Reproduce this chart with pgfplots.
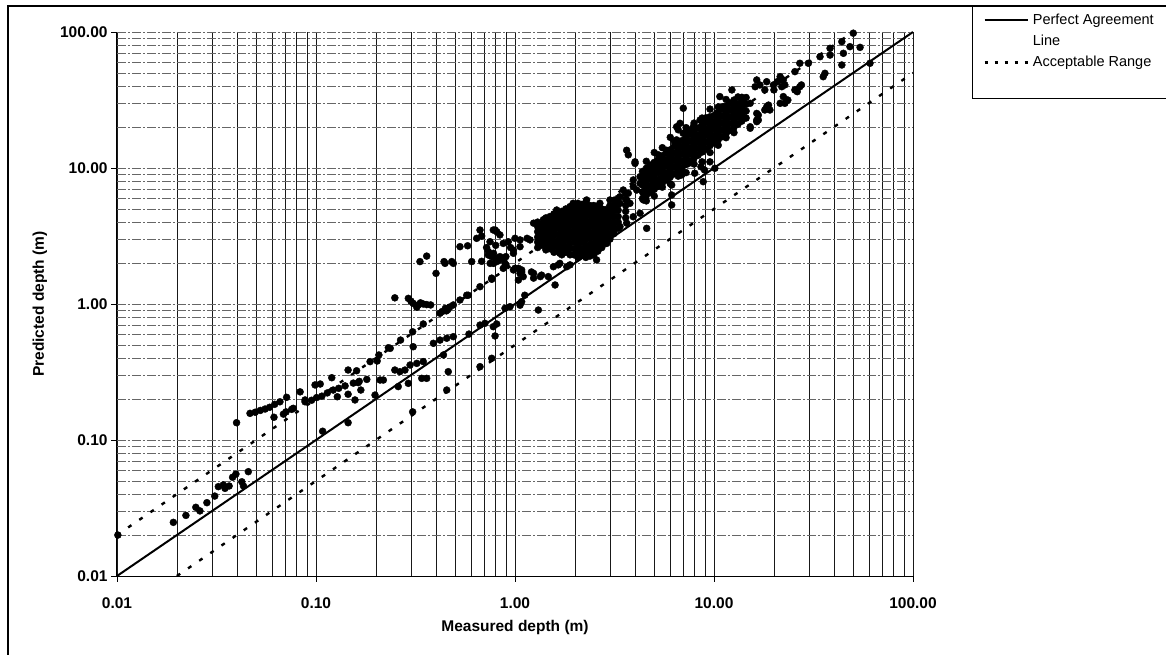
\documentclass[border=0pt]{standalone}
\usepackage{pgfplots}
\pgfplotsset{compat=1.18}
\usepackage{fontspec}
\setmainfont{Liberation Sans}
\begin{document}
\begin{tikzpicture}
\path[use as bounding box] (0,0) rectangle (1166pt,655pt);
\draw[black, line width=1.5pt] (8pt,0pt) -- (8pt,649pt) -- (1170pt,649pt);
\begin{axis}[
  at={(117pt,79pt)}, anchor=south west,
  scale only axis, width=796pt, height=544pt,
  xmode=log, ymode=log,
  xmin=0.01, xmax=100, ymin=0.01, ymax=100,
  clip=false,
  axis lines*=left,
  axis line style={black, line width=1pt},
  xtick={0.01,0.1,1,10,100},
  xticklabels={0.01,0.10,1.00,10.00,100.00},
  ytick={0.01,0.1,1,10,100},
  yticklabels={0.01,0.10,1.00,10.00,100.00},
  tick align=outside,
  major tick length=6pt, minor tick length=0pt,
  tick style={black, line width=0.8pt},
  ticklabel style={font=\fontsize{15.5}{18}\selectfont\bfseries},
  xticklabel style={yshift=-12pt},
  grid=both,
  x grid style={black!90, line width=0.6pt},
  y grid style={black!60, line width=0.7pt, dash pattern=on 9pt off 2pt on 2pt off 2pt},
  xlabel={Measured depth (m)},
  ylabel={Predicted depth (m)},
  every axis x label/.style={at={(axis description cs:0.5,-0.094)}, anchor=center, font=\fontsize{15.5}{18}\selectfont\bfseries},
  every axis y label/.style={at={(axis description cs:-0.097,0.5)}, anchor=center, rotate=90, font=\fontsize{15.5}{18}\selectfont\bfseries},
  legend style={at={(axis description cs:1.0741,1.0478)}, anchor=north west,
    draw=black, line width=1pt, inner xsep=11pt, inner ysep=6pt,
    font=\fontsize{14.5}{17}\selectfont, row sep=5pt},
  legend cell align=left,
]
\addplot[only marks, mark=*, mark size=3.5pt, black, forget plot] table {
x y
0.0101 0.020
0.0192 0.0248
0.0222 0.0279
0.0249 0.032
0.0261 0.0301
0.0283 0.0346
0.031 0.0387
0.0323 0.0454
0.0342 0.0467
0.0349 0.0441
0.0366 0.0459
0.0381 0.0532
0.0396 0.0562
0.0424 0.0493
0.0432 0.0459
0.0457 0.0585
0.0399 0.134
0.0466 0.157
0.0495 0.160
0.0525 0.165
0.0555 0.169
0.0585 0.174
0.0620 0.183
0.0659 0.191
0.0712 0.206
0.0615 0.147
0.0686 0.155
0.0707 0.161
0.0755 0.168
0.0832 0.226
0.0881 0.197
0.0769 0.171
0.0881 0.191
0.095 0.196
0.1007 0.205
0.107 0.210
0.114 0.222
0.122 0.233
0.13 0.24
0.14 0.25
0.154 0.262
0.165 0.27
0.18 0.279
0.0989 0.254
0.105 0.258
0.12 0.287
0.128 0.208
0.145 0.217
0.157 0.197
0.145 0.327
0.16 0.323
0.163 0.264
0.168 0.233
0.145 0.134
0.187 0.377
0.203 0.381
0.207 0.422
0.198 0.214
0.21 0.276
0.218 0.276
0.231 0.477
0.249 0.327
0.108 0.116
0.236 0.472
0.266 0.543
0.264 0.318
0.28 0.327
0.297 0.356
0.321 0.366
0.346 0.377
0.259 0.247
0.291 0.261
0.34 0.284
0.36 0.284
0.306 0.161
0.308 0.485
0.306 0.625
0.346 0.713
0.249 1.11
0.291 1.10
0.308 1.01
0.327 0.984
0.346 1.0
0.377 0.984
0.321 0.946
0.30 1.05
0.335 1.02
0.36 0.99
0.36 2.25
0.333 2.05
0.401 1.68
0.44 2.05
0.481 2.05
0.529 2.64
0.578 2.68
0.606 2.05
0.68 2.06
0.42 0.855
0.447 0.93
0.47 0.95
0.49 0.984
0.529 1.07
0.572 1.16
0.452 0.89
0.43 0.88
0.46 0.91
0.389 0.514
0.42 0.543
0.454 0.56
0.49 0.575
0.437 0.422
0.462 0.318
0.454 0.233
0.587 0.601
0.667 0.70
0.706 0.721
0.778 0.681
0.809 0.713
0.667 0.346
0.764 0.399
0.764 1.52
0.667 1.34
0.582 1.16
0.794 0.582
0.764 1.55
0.445 1.99
0.49 1.99
0.642 3.04
0.667 3.5
0.749 2.87
0.795 3.5
0.78 2.36
0.822 2.17
0.735 2.43
0.68 3.16
0.778 3.5
0.81 3.4
0.84 3.22
0.735 2.29
0.764 2.23
0.81 2.05
0.84 2.23
0.873 2.79
0.925 2.87
0.982 2.49
0.891 1.99
0.873 1.83
0.75 2.29
0.873 2.17
0.78 1.99
0.9 1.94
0.75 1.99
0.9 2.23
0.84 2.11
0.78 2.23
0.72 2.6
0.80 2.7
0.95 2.6
1.0 3.04
1.06 2.96
1.15 3.04
1.04 1.83
1.08 1.78
1.10 1.59
1.0 1.83
1.06 1.68
1.08 1.72
1.04 1.5
0.982 1.78
1.24 1.68
1.36 1.63
1.21 1.72
1.24 1.55
1.34 1.59
1.12 1.16
1.08 1.04
1.06 0.98
0.891 0.93
0.944 0.955
1.31 0.903
1.47 1.59
1.59 1.38
1.31 2.96
1.44 3.22
1.56 3.31
1.24 3.93
1.39 4.17
1.56 4.38
1.65 2.64
1.68 2.36
1.65 1.94
1.89 1.94
1.82 1.88
1.56 1.88
1.68 1.99
1.62 4.91
1.96 5.5
2.12 5.2
2.29 5.82
2.47 4.91
2.67 5.5
3.0 5.82
3.24 4.91
3.12 4.38
2.89 3.71
2.57 2.11
2.89 2.79
3.12 3.5
3.37 3.71
3.64 3.93
3.93 4.38
3.78 5.5
3.12 4.91
3.37 5.5
3.71 6.52
3.93 7.3
1.19 2.96
1.06 2.64
0.982 2.36
1.3 2.6
1.3 2.85
1.3 3.1
1.3 3.4
1.3 3.7
1.3 4.0
1.37 2.7
1.37 2.95
1.37 3.25
1.37 3.55
1.37 3.85
1.43 2.5
1.43 2.75
1.43 3.0
1.43 3.3
1.43 3.6
1.43 3.95
1.43 4.3
1.5 2.55
1.5 2.8
1.5 3.05
1.5 3.35
1.5 3.7
1.5 4.05
1.5 4.4
1.57 2.4
1.57 2.65
1.57 2.9
1.57 3.2
1.57 3.5
1.57 3.85
1.57 4.2
1.57 4.6
1.65 2.45
1.65 2.7
1.65 2.95
1.65 3.25
1.65 3.6
1.65 3.95
1.65 4.3
1.65 4.65
1.72 2.3
1.72 2.55
1.72 2.8
1.72 3.1
1.72 3.4
1.72 3.75
1.72 4.1
1.72 4.5
1.72 4.8
1.8 2.4
1.8 2.65
1.8 2.95
1.8 3.25
1.8 3.55
1.8 3.9
1.8 4.3
1.8 4.7
1.8 5.0
1.89 2.3
1.89 2.55
1.89 2.8
1.89 3.1
1.89 3.4
1.89 3.75
1.89 4.1
1.89 4.5
1.89 4.9
1.89 5.2
1.98 2.3
1.98 2.55
1.98 2.85
1.98 3.15
1.98 3.45
1.98 3.8
1.98 4.2
1.98 4.6
1.98 5.0
1.98 5.35
2.07 2.2
2.07 2.45
2.07 2.7
2.07 3.0
2.07 3.3
2.07 3.6
2.07 4.0
2.07 4.4
2.07 4.8
2.07 5.2
2.07 5.5
2.17 2.3
2.17 2.55
2.17 2.85
2.17 3.15
2.17 3.45
2.17 3.8
2.17 4.2
2.17 4.6
2.17 5.0
2.17 5.4
2.27 2.2
2.27 2.45
2.27 2.7
2.27 3.0
2.27 3.3
2.27 3.6
2.27 4.0
2.27 4.4
2.27 4.8
2.27 5.2
2.27 5.6
2.38 2.25
2.38 2.5
2.38 2.75
2.38 3.05
2.38 3.35
2.38 3.7
2.38 4.05
2.38 4.45
2.38 4.85
2.38 5.3
2.49 2.3
2.49 2.55
2.49 2.8
2.49 3.1
2.49 3.4
2.49 3.75
2.49 4.1
2.49 4.5
2.49 4.9
2.49 5.3
2.61 2.45
2.61 2.7
2.61 3.0
2.61 3.3
2.61 3.65
2.61 4.0
2.61 4.4
2.61 4.8
2.61 5.2
2.73 2.6
2.73 2.9
2.73 3.2
2.73 3.5
2.73 3.85
2.73 4.2
2.73 4.6
2.73 5.0
2.86 2.8
2.86 3.1
2.86 3.4
2.86 3.75
2.86 4.1
2.86 4.5
2.86 4.95
3.0 3.0
3.0 3.3
3.0 3.65
3.0 4.0
3.0 4.4
3.0 4.8
3.0 5.3
3.15 3.3
3.15 3.65
3.15 4.0
3.15 4.4
3.15 4.85
3.15 5.3
3.15 5.8
3.3 3.6
3.3 4.0
3.3 4.4
3.3 4.9
3.3 5.4
3.3 6.0
3.6 4.3
3.6 4.8
3.6 5.3
3.6 5.9
3.6 6.5
3.5 6.89
3.93 8.17
4.09 6.89
3.64 5.82
3.37 6.15
4.25 7.72
4.42 6.52
4.42 5.82
4.5 6.52
4.59 3.6
4.25 4.65
4.68 9.15
4.96 9.66
5.35 10.8
5.78 11.4
5.15 7.3
6.01 8.63
6.5 10.2
7.0 9.15
7.43 10.8
4.01 10.8
3.71 12.5
3.64 13.5
4.01 11.1
6.13 5.35
6.13 6.33
5.67 8.4
6.13 7.5
4.59 9.4
4.96 10.2
6.25 12.8
5.46 7.93
5.78 13.5
6.49 16.1
6.49 20.1
6.75 21.3
7.29 18
7.87 20.1
8.51 22.5
9.18 19
9.54 23.8
10.3 25.2
11.1 28.2
12.0 29.9
13.0 28.2
14.0 31.6
15.2 29.9
16.4 22.5
15.2 20.1
13.5 23.8
11.6 21.3
10.7 19
9.91 16.1
8.51 15.2
7.57 12.8
6.87 8.88
5.35 8.17
4.25 8.63
5.05 7.5
5.25 10.2
8.83 7.93
9.54 11.1
10.1 9.95
8.6 10.2
8.0 9.15
8.96 9.66
7.0 18
7.01 27.5
10.1 20.1
10.7 33.5
12.3 37.5
16.4 44.4
17.0 40.8
18.0 37.5
18.4 43.1
19.9 40.8
21.5 44.4
21.9 39.6
23.2 31.6
21.5 29.9
18.4 28.2
19.1 26.7
16.7 24.5
16.4 21.9
15.2 19.6
16.7 22.5
16.4 25.2
18.0 26.7
18.8 29.0
16.1 39.6
21.5 46.9
23.5 31.6
20.0 37.5
20.8 43.1
26.2 36.4
26.0 37.5
27.5 40.8
22.3 44.4
22.7 40.8
25.5 37.5
27.0 39.6
22.3 33.5
22.7 29.9
25.5 51.1
27.0 58.9
29.8 58.9
34.1 65.8
38.3 75.9
38.3 67.7
36.1 49.7
35.4 46.9
43.9 57.2
50.1 98
43.9 84.9
44.7 69.7
48.2 78
54.2 77.1
60.8 58.9
4.57 11.2
4.57 5.73
5.01 13.0
5.01 6.21
5.50 14.1
5.50 7.23
6.03 16.8
6.03 7.67
6.61 19.1
6.61 8.71
7.24 19.8
7.24 9.25
7.94 21.4
7.94 10.7
8.71 23.3
8.71 11.1
9.55 27.1
9.55 13.0
10.5 28.1
10.5 14.7
11.5 31.9
11.5 16.7
12.6 18.2
5.25 12.5
6.31 15.7
7.59 19.0
9.12 23.4
6.92 9.4
4.37 5.96
4.37 6.68
4.37 7.50
4.37 8.41
4.37 9.44
4.57 6.65
4.57 7.46
4.57 8.38
4.57 9.40
4.57 6.28
4.57 7.05
4.57 7.91
4.57 8.87
4.57 9.95
4.79 6.62
4.79 7.43
4.79 8.34
4.79 9.35
4.79 10.5
5.01 7.38
5.01 8.28
5.01 9.29
5.01 10.4
5.01 6.97
5.01 7.82
5.01 8.77
5.01 9.84
5.01 11.0
5.25 7.35
5.25 8.24
5.25 9.25
5.25 10.4
5.25 11.6
5.50 8.20
5.50 9.20
5.50 10.3
5.50 11.6
5.50 7.74
5.50 8.69
5.50 9.75
5.50 10.9
5.50 12.3
5.75 8.17
5.75 9.16
5.75 10.3
5.75 11.5
5.75 12.9
6.03 9.12
6.03 10.2
6.03 11.5
6.03 12.9
6.03 8.61
6.03 9.66
6.03 10.8
6.03 12.2
6.03 13.6
6.31 9.06
6.31 10.2
6.31 11.4
6.31 12.8
6.31 14.4
6.61 10.1
6.61 11.4
6.61 12.7
6.61 14.3
6.61 9.55
6.61 10.7
6.61 12.0
6.61 13.5
6.61 15.1
6.92 10.1
6.92 11.3
6.92 12.7
6.92 14.2
6.92 15.9
7.24 11.2
7.24 12.6
7.24 14.2
7.24 15.9
7.24 10.6
7.24 11.9
7.24 13.4
7.24 15.0
7.24 16.8
7.59 11.2
7.59 12.6
7.59 14.1
7.59 15.8
7.59 17.7
7.94 12.5
7.94 14.0
7.94 15.7
7.94 17.6
7.94 11.8
7.94 13.2
7.94 14.8
7.94 16.6
7.94 18.7
8.32 12.4
8.32 13.9
8.32 15.6
8.32 17.5
8.32 19.7
8.71 13.9
8.71 15.6
8.71 17.5
8.71 19.6
8.71 13.1
8.71 14.7
8.71 16.5
8.71 18.5
8.71 20.7
9.12 13.8
9.12 15.5
9.12 17.4
9.12 19.5
9.12 21.9
9.55 15.4
9.55 17.3
9.55 19.4
9.55 21.8
9.55 14.6
9.55 16.3
9.55 18.3
9.55 20.6
9.55 23.1
10.0 15.3
10.0 17.2
10.0 19.3
10.0 21.7
10.0 24.3
10.5 17.1
10.5 19.2
10.5 21.5
10.5 24.2
10.5 16.1
10.5 18.1
10.5 20.3
10.5 22.8
10.5 25.6
11.0 17.0
11.0 19.1
11.0 21.4
11.0 24.0
11.0 27.0
11.5 19.0
11.5 21.3
11.5 23.9
11.5 26.9
11.5 17.9
11.5 20.1
11.5 22.6
11.5 25.4
11.5 28.4
12.0 18.9
12.0 21.2
12.0 23.8
12.0 26.7
12.0 30.0
12.6 21.1
12.6 23.7
12.6 26.5
12.6 29.8
12.6 19.9
12.6 22.3
12.6 25.1
12.6 28.1
12.6 31.6
13.2 21.0
13.2 23.6
13.2 26.4
13.2 29.6
13.2 33.3
13.8 23.4
13.8 26.3
13.8 29.5
13.8 33.1
13.8 22.1
13.8 24.8
13.8 27.9
13.8 31.3
14.5 23.3
14.5 26.2
14.5 29.4
14.5 33.0
};
\addplot[black, line width=2pt, forget plot] coordinates {(0.01,0.01) (100,100)};
\addplot[black, line width=2.4pt, dash pattern=on 4pt off 9.5pt, forget plot] coordinates {(0.01,0.02) (50,100)};
\addplot[black, line width=2.4pt, dash pattern=on 4pt off 9.5pt, forget plot] coordinates {(0.02,0.01) (100,50)};
\addlegendimage{legend image code/.code={\draw[black, line width=2pt] (0pt,0pt) -- (43pt,0pt);}}
\addlegendimage{empty legend}
\addlegendimage{legend image code/.code={\draw[black, line width=2.4pt, dash pattern=on 3pt off 7pt] (0pt,0pt) -- (45pt,0pt);}}
\addlegendimage{empty legend}
\legend{\makebox[140pt][l]{Perfect Agreement}, \makebox[140pt][l]{Line}, \makebox[140pt][l]{Acceptable Range}, \makebox[140pt][l]{\strut}}
\end{axis}
\end{tikzpicture}
\end{document}
